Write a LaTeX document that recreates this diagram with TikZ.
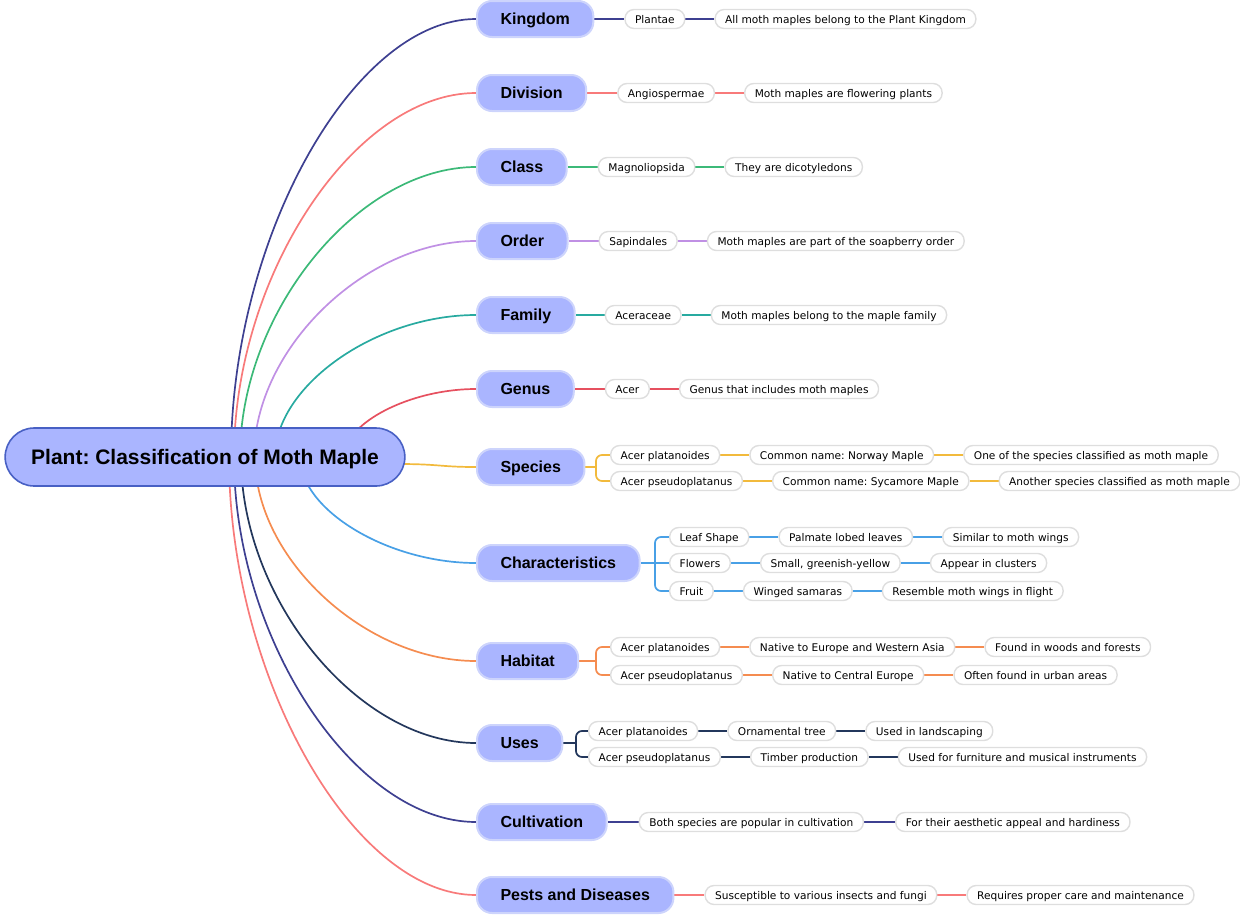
\documentclass[tikz,border=0pt]{standalone}
\usepackage{fontspec}
\setmainfont{DejaVu Sans}
\newfontfamily\bfam{Liberation Sans}
\usetikzlibrary{positioning,backgrounds}
\frenchspacing
\definecolor{cKing}{RGB}{62,64,145}
\definecolor{cDiv}{RGB}{248,122,122}
\definecolor{cClass}{RGB}{60,185,120}
\definecolor{cOrder}{RGB}{192,144,228}
\definecolor{cFam}{RGB}{40,170,160}
\definecolor{cGen}{RGB}{230,80,95}
\definecolor{cSpec}{RGB}{242,186,60}
\definecolor{cChar}{RGB}{72,160,230}
\definecolor{cHab}{RGB}{245,140,80}
\definecolor{cUses}{RGB}{35,55,92}
\definecolor{nodeFill}{RGB}{170,181,255}
\definecolor{branchBorder}{RGB}{205,212,252}
\definecolor{rootBorder}{RGB}{72,96,196}
\definecolor{leafBorder}{RGB}{222,222,222}
\newcommand\mmcurve[4]{\draw[conn,#4] (#1,457) .. controls (#1,{(457+#2)/2}) and ({(#1+476)/2},#2) .. (#3.west);}
\begin{document}
\frenchspacing
\begin{tikzpicture}[x=1pt,y=-1pt,
  rootnode/.style={draw=rootBorder,line width=1.6pt,fill=nodeFill,rounded corners=29pt,
    minimum height=58pt,inner xsep=26pt,inner ysep=0pt,
    font=\bfam\bfseries\fontsize{21}{24}\selectfont,text height=17pt,text depth=2pt},
  branch/.style={draw=branchBorder,line width=2pt,fill=nodeFill,rounded corners=15pt,
    minimum height=36pt,inner xsep=23.5pt,inner ysep=0pt,anchor=west,
    font=\bfam\bfseries\fontsize{16}{19}\selectfont,text height=13pt,text depth=1.5pt},
  leaf/.style={draw=leafBorder,line width=1.4pt,fill=white,rounded corners=9pt,
    minimum height=19pt,inner xsep=10pt,inner ysep=0pt,
    font=\fontsize{10.6}{12}\selectfont,text height=9.3pt,text depth=0.8pt},
  conn/.style={line width=1.7pt}]
\useasboundingbox (0,0) rectangle (1240,916);

\node[rootnode] (root) at (205,457) {Plant: Classification of Moth Maple};

% Kingdom
\node[branch] (kingdom) at (476,19) {Kingdom};
\node[leaf,right=30pt of kingdom] (k1) {Plantae};
\node[leaf,right=29pt of k1] (k2) {All moth maples belong to the Plant Kingdom};
% Division
\node[branch] (division) at (476,93) {Division};
\node[leaf,right=30pt of division] (d1) {Angiospermae};
\node[leaf,right=29pt of d1] (d2) {Moth maples are flowering plants};
% Class
\node[branch] (class) at (476,167) {Class};
\node[leaf,right=30pt of class] (c1) {Magnoliopsida};
\node[leaf,right=29pt of c1] (c2) {They are dicotyledons};
% Order
\node[branch] (order) at (476,241) {Order};
\node[leaf,right=30pt of order] (o1) {Sapindales};
\node[leaf,right=29pt of o1] (o2) {Moth maples are part of the soapberry order};
% Family
\node[branch] (family) at (476,315) {Family};
\node[leaf,right=29pt of family] (f1) {Aceraceae};
\node[leaf,right=29pt of f1] (f2) {Moth maples belong to the maple family};
% Genus
\node[branch] (genus) at (476,389) {Genus};
\node[leaf,right=30pt of genus] (g1) {Acer};
\node[leaf,right=29pt of g1] (g2) {Genus that includes moth maples};
% Species
\node[branch] (species) at (476,467) {Species};
\node[leaf,anchor=west] (s1) at (610,455) {Acer platanoides};
\node[leaf,right=29pt of s1] (s1b) {Common name: Norway Maple};
\node[leaf,right=29pt of s1b] (s1c) {One of the species classified as moth maple};
\node[leaf,anchor=west] (s2) at (610,481) {Acer pseudoplatanus};
\node[leaf,right=29pt of s2] (s2b) {Common name: Sycamore Maple};
\node[leaf,right=29pt of s2b] (s2c) {Another species classified as moth maple};
% Characteristics
\node[branch] (charac) at (476,563) {Characteristics};
\node[leaf,anchor=west] (h1) at (669,537) {Leaf Shape};
\node[leaf,right=29pt of h1] (h1b) {Palmate lobed leaves};
\node[leaf,right=29pt of h1b] (h1c) {Similar to moth wings};
\node[leaf,anchor=west] (h2) at (669,563) {Flowers};
\node[leaf,right=29pt of h2] (h2b) {Small, greenish-yellow};
\node[leaf,right=29pt of h2b] (h2c) {Appear in clusters};
\node[leaf,anchor=west] (h3) at (669,591) {Fruit};
\node[leaf,right=29pt of h3] (h3b) {Winged samaras};
\node[leaf,right=29pt of h3b] (h3c) {Resemble moth wings in flight};
% Habitat
\node[branch] (habitat) at (476,661) {Habitat};
\node[leaf,anchor=west] (b1) at (610,647) {Acer platanoides};
\node[leaf,right=29pt of b1] (b1b) {Native to Europe and Western Asia};
\node[leaf,right=29pt of b1b] (b1c) {Found in woods and forests};
\node[leaf,anchor=west] (b2) at (610,675) {Acer pseudoplatanus};
\node[leaf,right=29pt of b2] (b2b) {Native to Central Europe};
\node[leaf,right=29pt of b2b] (b2c) {Often found in urban areas};
% Uses
\node[branch] (uses) at (476,743) {Uses};
\node[leaf,anchor=west] (u1) at (588,731) {Acer platanoides};
\node[leaf,right=29pt of u1] (u1b) {Ornamental tree};
\node[leaf,right=29pt of u1b] (u1c) {Used in landscaping};
\node[leaf,anchor=west] (u2) at (588,757) {Acer pseudoplatanus};
\node[leaf,right=29pt of u2] (u2b) {Timber production};
\node[leaf,right=29pt of u2b] (u2c) {Used for furniture and musical instruments};
% Cultivation
\node[branch] (cultiv) at (476,822) {Cultivation};
\node[leaf,right=31pt of cultiv] (v1) {Both species are popular in cultivation};
\node[leaf,right=31pt of v1] (v2) {For their aesthetic appeal and hardiness};
% Pests
\node[branch] (pests) at (476,895) {Pests and Diseases};
\node[leaf,right=30pt of pests] (p1) {Susceptible to various insects and fungi};
\node[leaf,right=29pt of p1] (p2) {Requires proper care and maintenance};

\begin{pgfonlayer}{background}
% main curves
\mmcurve{231}{19}{kingdom}{cKing}
\mmcurve{234}{93}{division}{cDiv}
\mmcurve{240}{167}{class}{cClass}
\mmcurve{254}{241}{order}{cOrder}
\mmcurve{275}{315}{family}{cFam}
\mmcurve{344}{389}{genus}{cGen}
\draw[conn,cSpec] (398,464) .. controls (440,464) and (440,467) .. (species.west);
\mmcurve{300}{563}{charac}{cChar}
\mmcurve{255}{661}{habitat}{cHab}
\mmcurve{241}{743}{uses}{cUses}
\mmcurve{234}{822}{cultiv}{cKing}
\mmcurve{229}{895}{pests}{cDiv}
% leaf chains
\draw[conn,cKing] (kingdom.east) -- (k1.west) (k1.east) -- (k2.west);
\draw[conn,cDiv] (division.east) -- (d1.west) (d1.east) -- (d2.west);
\draw[conn,cClass] (class.east) -- (c1.west) (c1.east) -- (c2.west);
\draw[conn,cOrder] (order.east) -- (o1.west) (o1.east) -- (o2.west);
\draw[conn,cFam] (family.east) -- (f1.west) (f1.east) -- (f2.west);
\draw[conn,cGen] (genus.east) -- (g1.west) (g1.east) -- (g2.west);
\draw[conn,cKing] (cultiv.east) -- (v1.west) (v1.east) -- (v2.west);
\draw[conn,cDiv] (pests.east) -- (p1.west) (p1.east) -- (p2.west);
% species bracket
\coordinate (sj) at (596,467);
\draw[conn,cSpec] (species.east) -- (sj);
\draw[conn,cSpec,rounded corners=6pt] (sj) |- (s1.west);
\draw[conn,cSpec,rounded corners=6pt] (sj) |- (s2.west);
\draw[conn,cSpec] (s1.east) -- (s1b.west) (s1b.east) -- (s1c.west);
\draw[conn,cSpec] (s2.east) -- (s2b.west) (s2b.east) -- (s2c.west);
% characteristics bracket
\coordinate (cj) at (655,563);
\draw[conn,cChar] (charac.east) -- (h2.west);
\draw[conn,cChar,rounded corners=6pt] (cj) |- (h1.west);
\draw[conn,cChar,rounded corners=6pt] (cj) |- (h3.west);
\draw[conn,cChar] (h1.east) -- (h1b.west) (h1b.east) -- (h1c.west);
\draw[conn,cChar] (h2.east) -- (h2b.west) (h2b.east) -- (h2c.west);
\draw[conn,cChar] (h3.east) -- (h3b.west) (h3b.east) -- (h3c.west);
% habitat bracket
\coordinate (hj) at (596,661);
\draw[conn,cHab] (habitat.east) -- (hj);
\draw[conn,cHab,rounded corners=6pt] (hj) |- (b1.west);
\draw[conn,cHab,rounded corners=6pt] (hj) |- (b2.west);
\draw[conn,cHab] (b1.east) -- (b1b.west) (b1b.east) -- (b1c.west);
\draw[conn,cHab] (b2.east) -- (b2b.west) (b2b.east) -- (b2c.west);
% uses bracket
\coordinate (uj) at (576,743);
\draw[conn,cUses] (uses.east) -- (uj);
\draw[conn,cUses,rounded corners=6pt] (uj) |- (u1.west);
\draw[conn,cUses,rounded corners=6pt] (uj) |- (u2.west);
\draw[conn,cUses] (u1.east) -- (u1b.west) (u1b.east) -- (u1c.west);
\draw[conn,cUses] (u2.east) -- (u2b.west) (u2b.east) -- (u2c.west);
\end{pgfonlayer}
\end{tikzpicture}
\end{document}
